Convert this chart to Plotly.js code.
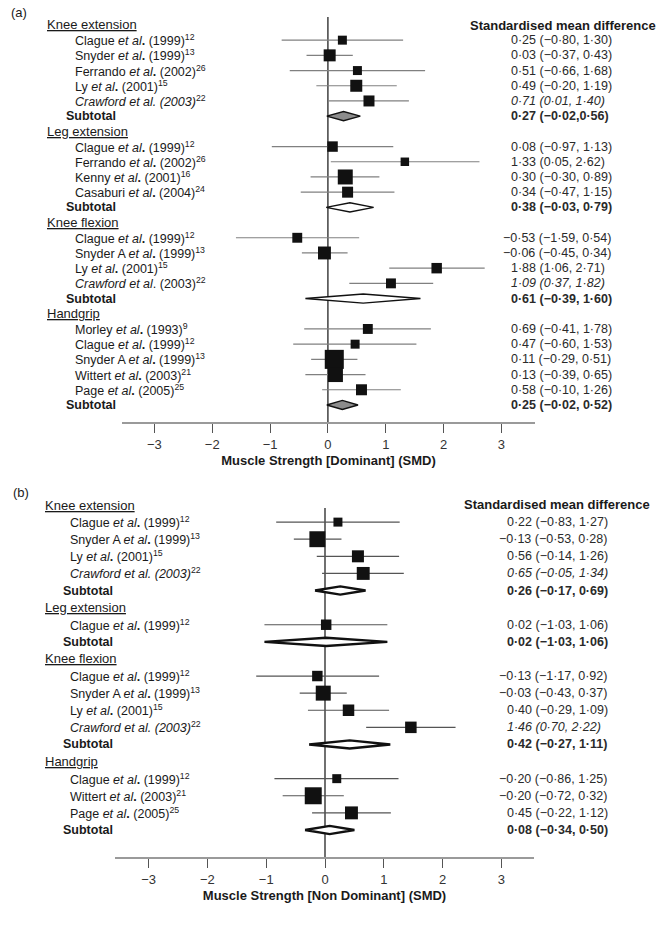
<!DOCTYPE html>
<html>
<head>
<meta charset="utf-8">
<script src="https://cdn.plot.ly/plotly-3.0.1.min.js"></script>
<style>html,body{margin:0;padding:0;background:#fff;}#chart{width:666px;height:929px;}</style>
</head>
<body>
<div id="chart"></div>
<script>
// ---------------- DATA : panel (a) Dominant ----------------
const groupsA = ['Knee extension', 'Leg extension', 'Knee flexion', 'Handgrip'];
const countsA = [5, 4, 4, 5];
const studiesA = [
  'Clague <i>et al</i><b>.</b> (1999)<sup>12</sup>',
  'Snyder <i>et al</i><b>.</b> (1999)<sup>13</sup>',
  'Ferrando <i>et al</i><b>.</b> (2002)<sup>26</sup>',
  'Ly <i>et al</i><b>.</b> (2001)<sup>15</sup>',
  '<i>Crawford et al. (2003)</i><sup>22</sup>',
  'Clague <i>et al</i><b>.</b> (1999)<sup>12</sup>',
  'Ferrando <i>et al</i><b>.</b> (2002)<sup>26</sup>',
  'Kenny <i>et al</i><b>.</b> (2001)<sup>16</sup>',
  'Casaburi <i>et al</i><b>.</b> (2004)<sup>24</sup>',
  'Clague <i>et al</i><b>.</b> (1999)<sup>12</sup>',
  'Snyder A <i>et al</i><b>.</b> (1999)<sup>13</sup>',
  'Ly <i>et al</i><b>.</b> (2001)<sup>15</sup>',
  '<i>Crawford et al</i>. (2003)<sup>22</sup>',
  'Morley <i>et al</i><b>.</b> (1993)<sup>9</sup>',
  'Clague <i>et al</i><b>.</b> (1999)<sup>12</sup>',
  'Snyder A <i>et al</i><b>.</b> (1999)<sup>13</sup>',
  'Wittert <i>et al</i><b>.</b> (2003)<sup>21</sup>',
  'Page <i>et al</i><b>.</b> (2005)<sup>25</sup>'
];
const smdA = [0.25, 0.03, 0.51, 0.49, 0.71, 0.08, 1.33, 0.30, 0.34, -0.53, -0.06, 1.88, 1.09, 0.69, 0.47, 0.11, 0.13, 0.58];
const loA  = [-0.80, -0.37, -0.66, -0.20, 0.01, -0.97, 0.05, -0.30, -0.47, -1.59, -0.45, 1.06, 0.37, -0.41, -0.60, -0.29, -0.39, -0.10];
const hiA  = [1.30, 0.43, 1.68, 1.19, 1.40, 1.13, 2.62, 0.89, 1.15, 0.54, 0.34, 2.71, 1.82, 1.78, 1.53, 0.51, 0.65, 1.26];
const weightA = [14, 25, 14, 25, 21, 19, 12.5, 39, 21, 17, 29, 19, 17, 17, 14, 63, 39, 21];
const valTextA = [
  '0·25 (−0·80, 1·30)', '0·03 (−0·37, 0·43)', '0·51 (−0·66, 1·68)', '0·49 (−0·20, 1·19)', '<i>0·71 (0·01, 1·40)</i>',
  '0·08 (−0·97, 1·13)', '1·33 (0·05, 2·62)', '0·30 (−0·30, 0·89)', '0·34 (−0·47, 1·15)',
  '−0·53 (−1·59, 0·54)', '−0·06 (−0·45, 0·34)', '1·88 (1·06, 2·71)', '<i>1·09 (0·37, 1·82)</i>',
  '0·69 (−0·41, 1·78)', '0·47 (−0·60, 1·53)', '0·11 (−0·29, 0·51)', '0·13 (−0·39, 0·65)', '0·58 (−0·10, 1·26)'
];
const subSmdA = [0.27, 0.38, 0.61, 0.25];
const subLoA  = [-0.02, -0.03, -0.39, -0.02];
const subHiA  = [0.56, 0.79, 1.60, 0.52];
const subTextA = ['0·27 (−0·02,0·56)', '0·38 (−0·03, 0·79)', '0·61 (−0·39, 1·60)', '0·25 (−0·02, 0·52)'];

// ---------------- DATA : panel (b) Non Dominant ----------------
const groupsB = ['Knee extension', 'Leg extension', 'Knee flexion', 'Handgrip'];
const countsB = [4, 1, 4, 3];
const studiesB = [
  'Clague <i>et al</i><b>.</b> (1999)<sup>12</sup>',
  'Snyder A <i>et al</i><b>.</b> (1999)<sup>13</sup>',
  'Ly <i>et al</i><b>.</b> (2001)<sup>15</sup>',
  '<i>Crawford et al. (2003)</i><sup>22</sup>',
  'Clague <i>et al</i><b>.</b> (1999)<sup>12</sup>',
  'Clague <i>et al</i><b>.</b> (1999)<sup>12</sup>',
  'Snyder A <i>et al</i><b>.</b> (1999)<sup>13</sup>',
  'Ly <i>et al</i><b>.</b> (2001)<sup>15</sup>',
  '<i>Crawford et al. (2003)</i><sup>22</sup>',
  'Clague <i>et al</i><b>.</b> (1999)<sup>12</sup>',
  'Wittert <i>et al</i><b>.</b> (2003)<sup>21</sup>',
  'Page <i>et al</i><b>.</b> (2005)<sup>25</sup>'
];
const smdB = [0.22, -0.13, 0.56, 0.65, 0.02, -0.13, -0.03, 0.40, 1.46, 0.20, -0.20, 0.45];
const loB  = [-0.83, -0.53, -0.14, -0.05, -1.03, -1.17, -0.43, -0.29, 0.70, -0.86, -0.72, -0.22];
const hiB  = [1.27, 0.28, 1.26, 1.34, 1.06, 0.92, 0.37, 1.09, 2.22, 1.25, 0.32, 1.12];
const weightB = [14, 44, 25, 29, 19, 19, 39, 23, 23, 14, 50, 29];
const valTextB = [
  '0·22 (−0·83, 1·27)', '−0·13 (−0·53, 0·28)', '0·56 (−0·14, 1·26)', '<i>0·65 (−0·05, 1·34)</i>',
  '0·02 (−1·03, 1·06)',
  '−0·13 (−1·17, 0·92)', '−0·03 (−0·43, 0·37)', '0·40 (−0·29, 1·09)', '<i>1·46 (0·70, 2·22)</i>',
  '−0·20 (−0·86, 1·25)', '−0·20 (−0·72, 0·32)', '0·45 (−0·22, 1·12)'
];
const subSmdB = [0.26, 0.02, 0.42, 0.08];
const subLoB  = [-0.17, -1.03, -0.27, -0.34];
const subHiB  = [0.69, 1.06, 1.11, 0.50];
const subTextB = ['0·26 (−0·17, 0·69)', '0·02 (−1·03, 1·06)', '0·42 (−0·27, 1·11)', '0·08 (−0·34, 0·50)'];

const tickValues = [-3, -2, -1, 0, 1, 2, 3];
const panelLetters = ['(a)', '(b)'];
const xTitles = ['Muscle Strength [Dominant] (SMD)', 'Muscle Strength [Non Dominant] (SMD)'];
const columnHeader = 'Standardised mean difference';

// ---------------- BUILD ----------------
const W = 666, H = 929;
const FONT = 'Liberation Sans, Arial, Helvetica, sans-serif';
const px = v => v / W;
const py = v => 1 - v / H;

const traces = [];
const annotations = [];
const shapes = [];

function buildPanel(cfg) {
  const headerRows = [], studyRows = [], subRows = [];
  let r = 0;
  cfg.groups.forEach((g, gi) => {
    headerRows.push(r++);
    for (let j = 0; j < cfg.counts[gi]; j++) studyRows.push(r++);
    subRows.push(r++);
  });
  const yref = cfg.ya;
  // line of no effect (x = 0)
  shapes.push({type: 'line', xref: cfg.xa, yref: cfg.ya, x0: 0, x1: 0, y0: cfg.zeroTop, y1: cfg.yBottom,
    line: {color: '#111', width: 1.2}, layer: 'below'});
  // CI lines
  const lx = [], ly = [];
  cfg.lo.forEach((v, i) => { lx.push(v, cfg.hi[i], null); ly.push(studyRows[i], studyRows[i], null); });
  traces.push({type: 'scatter', mode: 'lines', x: lx, y: ly, xaxis: cfg.xa, yaxis: cfg.ya,
    line: {color: cfg.ciColor, width: 1.2}, hoverinfo: 'skip', showlegend: false, cliponaxis: false});
  // study squares
  traces.push({type: 'scatter', mode: 'markers', x: cfg.smd, y: studyRows, xaxis: cfg.xa, yaxis: cfg.ya,
    marker: {symbol: 'square', color: '#111', opacity: 1, size: cfg.weight.map(w => 2.4 * Math.sqrt(w)), line: {width: 0}},
    hoverinfo: 'skip', showlegend: false, cliponaxis: false});
  // subtotal diamonds
  cfg.subSmd.forEach((m, gi) => {
    const yr = subRows[gi], h = cfg.diamondHalf;
    traces.push({type: 'scatter', mode: 'lines', fill: 'toself', fillcolor: cfg.diamondFills[gi],
      x: [cfg.subLo[gi], m, cfg.subHi[gi], m, cfg.subLo[gi]],
      y: [yr, yr - h, yr, yr + h, yr], xaxis: cfg.xa, yaxis: cfg.ya,
      line: {color: '#111', width: cfg.diamondLine}, hoverinfo: 'skip', showlegend: false});
  });
  const textFont = {family: FONT, size: 12.5, color: '#1a1a1a'};
  const valFont = {family: FONT, size: 12.5, color: '#2a2a2a'};
  const starts = s => s.replace(/<[^>]+>/g, '').startsWith('−');
  cfg.groups.forEach((g, gi) => {
    annotations.push({xref: 'paper', yref: yref, x: px(cfg.xHeader), y: headerRows[gi], xanchor: 'left', yanchor: 'middle',
      text: '<u>' + g + '</u>', showarrow: false, font: {family: FONT, size: 13, color: '#1a1a1a'}});
    annotations.push({xref: 'paper', yref: yref, x: px(cfg.xSub), y: subRows[gi], xanchor: 'left', yanchor: 'middle',
      text: '<b>Subtotal</b>', showarrow: false, font: textFont});
    annotations.push({xref: 'paper', yref: yref, x: px(cfg.xVal), y: subRows[gi], xanchor: 'left', yanchor: 'middle',
      xshift: starts(cfg.subText[gi]) ? -8 : 0,
      text: '<b>' + cfg.subText[gi] + '</b>', showarrow: false, font: valFont});
  });
  cfg.labels.forEach((t, i) => {
    annotations.push({xref: 'paper', yref: yref, x: px(cfg.xStudy), y: studyRows[i], xanchor: 'left', yanchor: 'middle',
      text: t, showarrow: false, font: textFont});
    annotations.push({xref: 'paper', yref: yref, x: px(cfg.xVal), y: studyRows[i], xanchor: 'left', yanchor: 'middle',
      xshift: starts(cfg.valText[i]) ? -8 : 0,
      text: cfg.valText[i], showarrow: false, font: valFont});
  });
  annotations.push({xref: 'paper', yref: 'paper', x: px(cfg.xHeadRight), y: py(cfg.yHead), xanchor: 'right', yanchor: 'middle',
    text: '<b>' + columnHeader + '</b>', showarrow: false, borderpad: 0, font: {family: FONT, size: 13, color: '#1a1a1a'}});
  annotations.push({xref: 'paper', yref: 'paper', x: px(cfg.xLetter), y: py(cfg.yLetter), xanchor: 'left', yanchor: 'middle',
    text: cfg.letter, showarrow: false, font: {family: FONT, size: 13, color: '#1a1a1a'}});
}

// panel (a): rows at 25 + 15.2*r px ; axis from y=9 px (row -1.05) to 422 px (row 26.12)
buildPanel({groups: groupsA, counts: countsA, labels: studiesA, smd: smdA, lo: loA, hi: hiA, weight: weightA,
  valText: valTextA, subSmd: subSmdA, subLo: subLoA, subHi: subHiA, subText: subTextA,
  xa: 'x', ya: 'y', ciColor: '#808080', diamondHalf: 0.3, diamondLine: 1.4,
  diamondFills: ['#8c8c8c', '#ffffff', '#ffffff', '#8c8c8c'], zeroTop: -0.526, yBottom: 26.12,
  xHeader: 45, xStudy: 73, xSub: 64, xVal: 509, xHeadRight: 657, yHead: 25, xLetter: 9, yLetter: 13, letter: panelLetters[0]});

// panel (b): rows at 505 + 17.1*r px ; axis from y=496.45 px (row -0.5) to 857 px (row 20.58)
buildPanel({groups: groupsB, counts: countsB, labels: studiesB, smd: smdB, lo: loB, hi: hiB, weight: weightB,
  valText: valTextB, subSmd: subSmdB, subLo: subLoB, subHi: subHiB, subText: subTextB,
  xa: 'x2', ya: 'y2', ciColor: '#555555', diamondHalf: 0.24, diamondLine: 2.4,
  diamondFills: ['#ffffff', '#ffffff', '#ffffff', '#ffffff'], zeroTop: 0.175, yBottom: 20.58,
  xHeader: 43, xStudy: 68, xSub: 61, xVal: 505, xHeadRight: 651, yHead: 504, xLetter: 11, yLetter: 493, letter: panelLetters[1]});

function xAxis(domainPx, range, title, anchor) {
  return {
    domain: [px(domainPx[0]), px(domainPx[1])], range: range, anchor: anchor,
    showgrid: false, zeroline: false,
    showline: true, linecolor: '#9a9a9a', linewidth: 2,
    ticks: 'outside', ticklen: 9, tickwidth: 1, tickcolor: '#555',
    tickmode: 'array', tickvals: tickValues,
    tickfont: {family: FONT, size: 13, color: '#333'},
    title: {text: '<b>' + title + '</b>', font: {family: FONT, size: 13, color: '#1a1a1a'}, standoff: 5},
    fixedrange: true, automargin: false
  };
}
function yAxis(domainPx, range, anchor) {
  return {domain: [py(domainPx[1]), py(domainPx[0])], range: range, anchor: anchor, visible: false, fixedrange: true};
}

const layout = {
  width: W, height: H, margin: {l: 0, r: 0, t: 0, b: 0},
  paper_bgcolor: '#fff', plot_bgcolor: '#fff', showlegend: false,
  xaxis: xAxis([122, 535], [-3.56, 3.58], xTitles[0], 'y'),
  yaxis: yAxis([9, 422], [26.12, -1.05], 'x'),
  xaxis2: xAxis([115, 534], [-3.571, 3.554], xTitles[1], 'y2'),
  yaxis2: yAxis([496.45, 857], [20.58, -0.5], 'x2'),
  shapes: shapes,
  annotations: annotations
};

Plotly.newPlot('chart', traces, layout, {displayModeBar: false, staticPlot: true});
</script>
</body>
</html>
